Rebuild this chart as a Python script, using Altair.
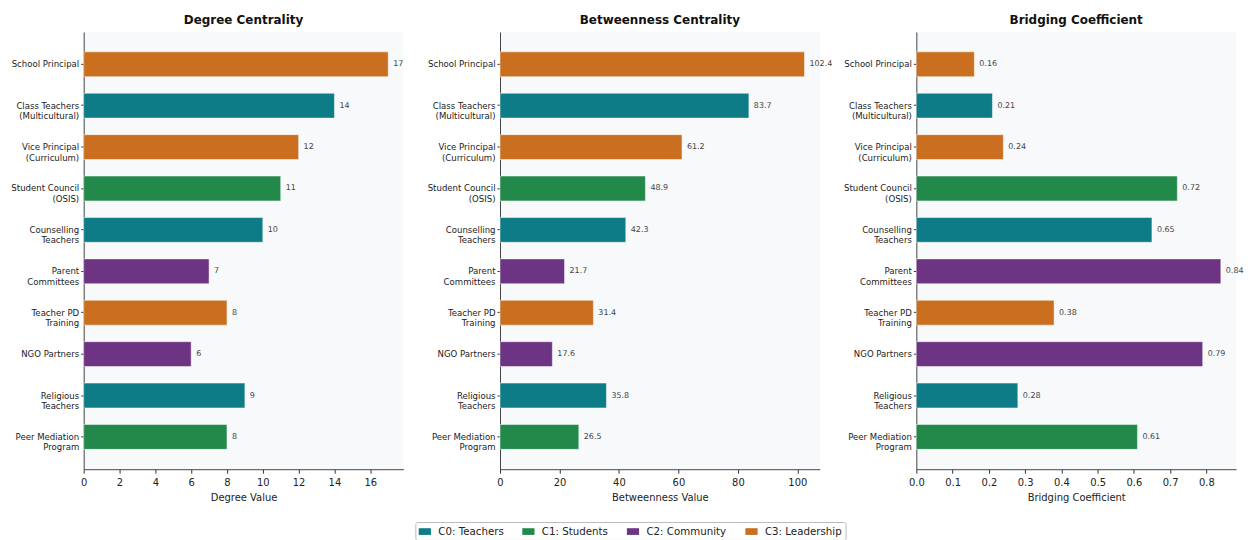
import altair as alt
import pandas as pd

categories = [
    "School Principal", "Class Teachers|(Multicultural)", "Vice Principal|(Curriculum)",
    "Student Council|(OSIS)", "Counselling|Teachers", "Parent|Committees",
    "Teacher PD|Training", "NGO Partners", "Religious|Teachers", "Peer Mediation|Program",
]
groups = [
    "C3: Leadership", "C0: Teachers", "C3: Leadership", "C1: Students", "C0: Teachers",
    "C2: Community", "C3: Leadership", "C2: Community", "C0: Teachers", "C1: Students",
]
degree = [17, 14, 12, 11, 10, 7, 8, 6, 9, 8]
betweenness = [102.4, 83.7, 61.2, 48.9, 42.3, 21.7, 31.4, 17.6, 35.8, 26.5]
bridging = [0.16, 0.21, 0.24, 0.72, 0.65, 0.84, 0.38, 0.79, 0.28, 0.61]

group_names = ["C0: Teachers", "C1: Students", "C2: Community", "C3: Leadership"]
group_colors = ["#0e7c86", "#22894b", "#6c3483", "#c96f1f"]

df = pd.DataFrame({
    "node": categories, "group": groups,
    "degree": degree, "betweenness": betweenness, "bridging": bridging,
})

FONT = "DejaVu Sans"


def panel(field, title, xtitle, ticks, tick_fmt, label_fmt):
    vmax = max(df[field]) * 1.05
    y = alt.Y("node:N", sort=categories, title=None,
              scale=alt.Scale(paddingInner=0.4, paddingOuter=0.48),
              axis=alt.Axis(labelExpr="split(datum.label, '|')", labelFontSize=8.6,
                            labelColor="#222", tickSize=3, tickColor="#333",
                            domainColor="#444", labelPadding=2, labelLineHeight=10.5))
    x = alt.X(f"{field}:Q", title=xtitle,
              scale=alt.Scale(domain=[0, vmax], nice=False, zero=True),
              axis=alt.Axis(values=ticks, format=tick_fmt, labelFontSize=10,
                            labelColor="#222", titleFontSize=10, titleFontWeight="normal",
                            titleColor="#222", tickSize=4, tickColor="#333",
                            domainColor="#444", grid=False, labelPadding=4,
                            titlePadding=5, labelFlush=False))
    bars = alt.Chart(df).mark_bar(stroke="white", strokeWidth=0.8, strokeOpacity=0.6).encode(
        x=x, y=y,
        color=alt.Color("group:N", scale=alt.Scale(domain=group_names, range=group_colors),
                        title=None),
    )
    text = alt.Chart(df).mark_text(align="left", baseline="middle", dx=5, fontSize=8,
                                   color="#444", font=FONT).encode(
        x=alt.X(f"{field}:Q"), y=alt.Y("node:N", sort=categories),
        text=alt.Text(f"{field}:Q", format=label_fmt),
    )
    return (bars + text).properties(
        width=321, height=439,
        title=alt.TitleParams(title, fontSize=12, fontWeight="bold", font=FONT,
                              color="#111", offset=5),
    )


p1 = panel("degree", "Degree Centrality", "Degree Value",
           [0, 2, 4, 6, 8, 10, 12, 14, 16], "d", "d")
p2 = panel("betweenness", "Betweenness Centrality", "Betweenness Value",
           [0, 20, 40, 60, 80, 100], "d", ".1f")
p3 = panel("bridging", "Bridging Coefficient", "Bridging Coefficient",
           [0.0, 0.1, 0.2, 0.3, 0.4, 0.5, 0.6, 0.7, 0.8], ".1f", ".2f")

chart = alt.hconcat(p1, p2, p3, spacing=97, bounds="flush").resolve_scale(
    x="independent", y="independent"
).properties(
    padding={"left": 2, "right": 2, "top": 5, "bottom": 0}
).configure(font=FONT).configure_view(
    fill="#f8f9fa", stroke=None
).configure_legend(
    orient="none", legendX=333, legendY=492, direction="horizontal",
    labelFontSize=10.3, labelColor="#222", strokeColor="#bbb", padding=3,
    symbolType="M-1,-0.55L1,-0.55L1,0.55L-1,0.55Z", symbolSize=150,
    symbolStrokeWidth=0, columnPadding=18, labelOffset=7, fillColor="white",
    cornerRadius=2,
)

chart.save("out.html", embed_options={"renderer": "svg", "actions": False})
